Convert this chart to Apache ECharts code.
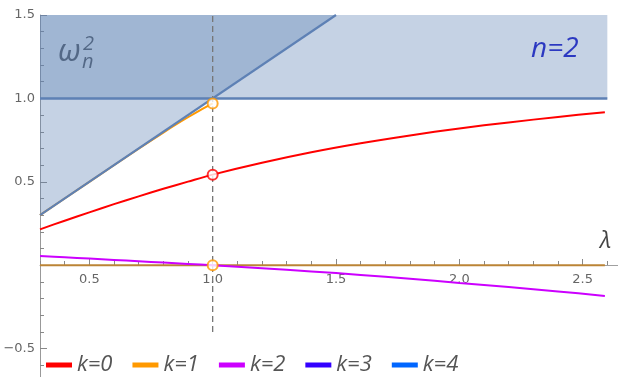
<!DOCTYPE html>
<html>
<head>
<meta charset="utf-8">
<style>
    html, body { margin: 0; padding: 0; background: #fff; }
    #omegaChart { width: 618px; height: 377px; }
</style>
<script src="https://cdn.jsdelivr.net/npm/echarts@6.0.0/dist/echarts.min.js"></script>
</head>
<body>
<div id="omegaChart"></div>
<script>
    // lambda samples shared by the curves
    var lambda = [0.3, 0.4, 0.5, 0.6, 0.7, 0.8, 0.9, 1.0, 1.2, 1.4, 1.6, 1.8, 2.0, 2.2, 2.4, 2.59]
    var k0 = [0.215, 0.267, 0.317, 0.366, 0.413, 0.458, 0.501, 0.543, 0.614, 0.677, 0.731, 0.778, 0.82, 0.856, 0.889, 0.917]
    var k2 = [0.056, 0.048, 0.04, 0.032, 0.024, 0.016, 0.008, 0.0, -0.018, -0.037, -0.058, -0.081, -0.106, -0.131, -0.157, -0.184]
    // k=1 upper branch (only below lambda=1) and the zero branch
    var k1Lambda = [0.3, 0.5, 0.7, 0.8, 0.85, 0.9, 0.95, 1.0]
    var k1Upper = [0.3, 0.5, 0.698, 0.795, 0.842, 0.887, 0.93, 0.97]
    var k1ZeroLambda = [0.3, 2.59]
    var k1Zero = [0, 0]

    // region boundaries
    var flatX = [0.3, 2.6]
    var flatY = [1, 1]
    var diagX = [0.3, 1.5]
    var diagY = [0.3, 1.5]

    // open circles at lambda = 1
    var redMarks = [[1, 0.543]]
    var orangeMarks = [[1, 0.97], [1, 0]]
    var dashX = 1
    var dashRange = [-0.4, 1.5]

    var xMajor = [0.5, 1.0, 1.5, 2.0, 2.5]
    var yMajor = [-0.5, 0, 0.5, 1.0, 1.5]
    var legendNames = ['k=0', 'k=1', 'k=2', 'k=3', 'k=4']
    var colors = ['#ff0000', '#ff9900', '#cc00ff', '#3300ff', '#0066ff']

    function zip(xs, ys) {
        var out = []
        for (var i = 0; i < xs.length; i++) out.push([xs[i], ys[i]])
        return out
    }
    function isMajor(v) {
        return Math.abs(v * 2 - Math.round(v * 2)) < 1e-6
    }
    function fmt(v) {
        if (Math.abs(v) < 1e-9 || !isMajor(v)) return ''
        var s = v.toFixed(1)
        return v < 0 ? '\u2212' + s.slice(1) : s
    }

    var myChart = echarts.init(document.getElementById('omegaChart'))
    var fillColor = 'rgba(94,129,181,0.36)'
    var lineBlue = '#5e81b5'
    var tickFont = 'DejaVu Sans'
    var xMin = 0.3, xMax = 2.7

    var option = {
        animation: false,
        // grid 0 holds the plot, grid 1 only carries the x axis sitting at y = 0
        grid: [
            { left: 40, top: 15, right: -14, bottom: -5, outerBoundsMode: 'none', containLabel: false },
            { left: 40, top: 15, right: -14, height: 250, outerBoundsMode: 'none', containLabel: false }
        ],
        xAxis: [{
            gridIndex: 0, type: 'value', min: xMin, max: xMax, show: false
        }, {
            gridIndex: 1, type: 'value', min: xMin, max: xMax, interval: 0.1, position: 'bottom',
            axisLine: { onZero: false, lineStyle: { color: '#a0a0a0', width: 1 } },
            axisTick: { inside: true, length: 4, lineStyle: { color: '#888' } },
            axisLabel: { formatter: fmt, color: '#666', fontSize: 13, fontFamily: tickFont, margin: 8 },
            splitLine: { show: false }
        }, {
            gridIndex: 1, type: 'value', min: xMin, max: xMax, position: 'bottom',
            axisLine: { show: false, onZero: false },
            axisTick: { inside: true, length: 6, customValues: xMajor, lineStyle: { color: '#888' } },
            axisLabel: { show: false },
            splitLine: { show: false }
        }],
        yAxis: [{
            gridIndex: 0, type: 'value', min: -0.7, max: 1.5, interval: 0.1, position: 'left',
            axisLine: { show: true, onZero: false, lineStyle: { color: '#999', width: 1 } },
            axisTick: { show: true, inside: true, length: 4, lineStyle: { color: '#888' } },
            axisLabel: { formatter: fmt, color: '#666', fontSize: 13, fontFamily: tickFont, margin: 5 },
            splitLine: { show: false }
        }, {
            gridIndex: 0, type: 'value', min: -0.7, max: 1.5, position: 'left',
            axisLine: { show: false, onZero: false },
            axisTick: { show: true, inside: true, length: 7, customValues: yMajor, lineStyle: { color: '#888' } },
            axisLabel: { show: false },
            splitLine: { show: false }
        }, {
            gridIndex: 1, type: 'value', show: false
        }],
        legend: {
            data: legendNames,
            left: 41, top: 349,
            icon: 'rect', itemWidth: 26, itemHeight: 5, itemGap: 20,
            textStyle: { fontSize: 22, fontStyle: 'italic', color: '#555', fontFamily: 'Open Sans' }
        },
        graphic: [
            { type: 'text', x: 58, y: 52, style: { text: '\u03c9', font: 'italic 31px "Open Sans"', fill: '#444', verticalAlign: 'middle' } },
            { type: 'text', x: 83, y: 44, style: { text: '2', font: 'italic 20px "Open Sans"', fill: '#444', verticalAlign: 'middle' } },
            { type: 'text', x: 82, y: 62, style: { text: 'n', font: 'italic 20px "Open Sans"', fill: '#444', verticalAlign: 'middle' } },
            { type: 'text', x: 531, y: 49, style: { text: 'n=2', font: 'italic 28px "Open Sans"', fill: '#0f0fc8', verticalAlign: 'middle' } },
            { type: 'text', x: 600, y: 241, style: { text: '\u03bb', font: 'italic 23px "Open Sans"', fill: '#444', verticalAlign: 'middle' } }
        ],
        series: [
            // shaded regions: above the diagonal and above 1
            { type: 'line', data: zip(flatX, flatY), showSymbol: false, z: 1,
              lineStyle: { width: 0 }, areaStyle: { origin: 'end', color: fillColor, opacity: 1 } },
            { type: 'line', data: zip(diagX, diagY), showSymbol: false, z: 1,
              lineStyle: { width: 0 }, areaStyle: { origin: 'end', color: fillColor, opacity: 1 } },
            // dashed marker at lambda = 1
            { type: 'line', data: [[dashX, dashRange[0]], [dashX, dashRange[1]]], showSymbol: false, z: 2,
              lineStyle: { color: '#777', width: 1.3, type: [6, 4] } },
            { name: 'k=0', type: 'line', data: zip(lambda, k0), showSymbol: false, smooth: 0.3, z: 3,
              color: colors[0], lineStyle: { width: 2 } },
            { name: 'k=1', type: 'line', data: zip(k1Lambda, k1Upper), showSymbol: false, smooth: 0.3, z: 3,
              color: colors[1], lineStyle: { width: 2 } },
            { type: 'line', data: zip(k1ZeroLambda, k1Zero), showSymbol: false, z: 3,
              color: '#bb8436', lineStyle: { width: 2 } },
            { name: 'k=2', type: 'line', data: zip(lambda, k2), showSymbol: false, smooth: 0.3, z: 3,
              color: colors[2], lineStyle: { width: 2 } },
            { name: 'k=3', type: 'line', data: [], color: colors[3] },
            { name: 'k=4', type: 'line', data: [], color: colors[4] },
            // boundary lines
            { type: 'line', data: zip(diagX, diagY), showSymbol: false, z: 4,
              lineStyle: { color: lineBlue, width: 2.2 } },
            { type: 'line', data: zip(flatX, flatY), showSymbol: false, z: 4,
              lineStyle: { color: lineBlue, width: 2.5 } },
            // open circles
            { type: 'scatter', data: redMarks, symbolSize: 10, z: 5,
              itemStyle: { color: '#fff', borderColor: colors[0], borderWidth: 2 } },
            { type: 'scatter', data: orangeMarks, symbolSize: 10, z: 5,
              itemStyle: { color: '#fff', borderColor: colors[1], borderWidth: 2 } }
        ]
    }
    myChart.setOption(option)
</script>
</body>
</html>
